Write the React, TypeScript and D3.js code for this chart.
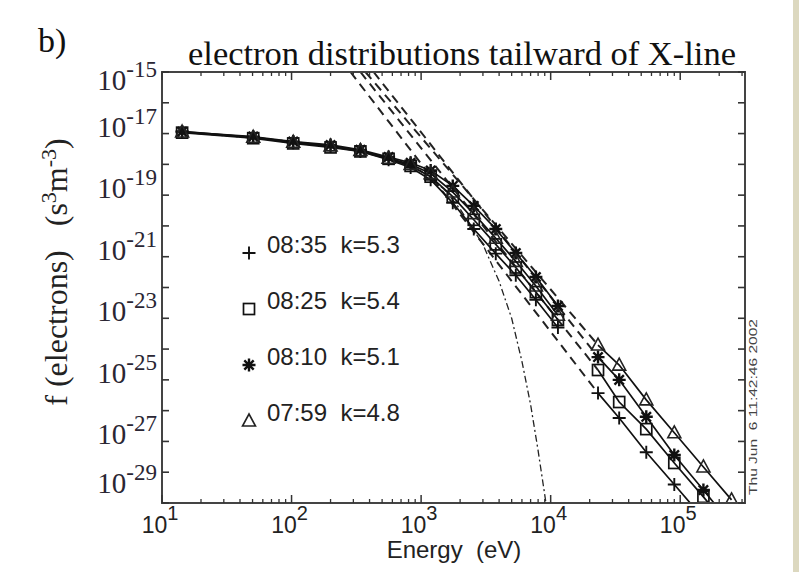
import React from 'react';
import * as d3 from 'd3';

// ---------- data (energies in eV, f values as log10 exponents) ----------
const energyLow = [14.3, 50.6, 103, 200, 340, 561, 830, 1185, 1755, 2550, 3770, 5380, 7690, 11380];
const energyHigh = [23200, 33800, 54700, 90000, 151000, 249000];

const plusLow = [-16.93, -17.12, -17.3, -17.42, -17.58, -17.85, -18.1, -18.5, -19.25, -20.1, -20.9, -21.6, -22.4, -23.3];
const squareLow = [-16.97, -17.15, -17.32, -17.45, -17.58, -17.82, -18.05, -18.4, -19.05, -19.8, -20.6, -21.35, -22.15, -23.05];
const starLow = [-16.94, -17.1, -17.26, -17.37, -17.53, -17.76, -17.95, -18.2, -18.7, -19.35, -20.1, -20.88, -21.66, -22.6];
const triLow = [-16.95, -17.12, -17.28, -17.4, -17.55, -17.8, -18.0, -18.3, -18.9, -19.6, -20.4, -21.15, -21.95, -22.9];

const plusHigh = [-25.43, -26.24, -27.35, -28.4, -29.5];
const squareHigh = [-24.68, -25.72, -26.6, -27.7, -28.8, -29.9];
const starHigh = [-24.26, -25.0, -26.2, -27.44, -28.58, -29.7];
const triHigh = [-23.87, -24.52, -25.65, -26.72, -27.83, -28.9];

// power-law fit lines: energies and log10 f at both ends
const fitEnergies = [
  [285, 23200],
  [340, 23200],
  [430, 23200],
  [372, 23200],
];
const fitValues = [
  [-15, -25.43],
  [-15, -24.68],
  [-15, -24.26],
  [-15, -23.87],
];

// Maxwellian (dash-dot)
const maxwellE = [14, 100, 300, 600, 1000, 1500, 2000, 3000, 4000, 5000, 6000, 7000, 8000, 9200];
const maxwellF = [-16.95, -17.25, -17.5, -17.82, -18.22, -18.8, -19.45, -20.6, -21.8, -23.0, -24.4, -25.8, -27.3, -29.0];

const seriesNames = ['plus', 'square', 'star', 'triangle'];
const legendLabels = ['08:35  k=5.3', '08:25  k=5.4', '08:10  k=5.1', '07:59  k=4.8'];
const xTickExps = [1, 2, 3, 4, 5];
const yTickExps = [-29, -28, -27, -26, -25, -24, -23, -22, -21, -20, -19, -18, -17, -16, -15];
const yLabelExps = [-15, -17, -19, -21, -23, -25, -27, -29];

const lowSeries = [plusLow, squareLow, starLow, triLow];
const highSeries = [plusHigh, squareHigh, starHigh, triHigh];

// ---------- layout ----------
const W = 799;
const H = 572;
const L = 162, R = 745, T = 72, B = 503;

const x = d3.scaleLog().domain([10, Math.pow(10, 5.5)]).range([L, R]);
const y = d3.scaleLog().domain([1e-29, 1e-15]).range([B, T]);

const p10 = (v: number) => Math.pow(10, v);

function Marker({ kind, cx, cy }: { kind: string; cx: number; cy: number }) {
  const s = 6.5;
  if (kind === 'plus') {
    return <path d={`M${cx - s},${cy}H${cx + s}M${cx},${cy - s}V${cy + s}`} stroke="#111" strokeWidth={1.9} fill="none" />;
  }
  if (kind === 'square') {
    return <rect x={cx - 5.5} y={cy - 5.5} width={11} height={11} stroke="#111" strokeWidth={1.7} fill="none" />;
  }
  if (kind === 'star') {
    const d = s * 0.72;
    return (
      <g stroke="#111" strokeWidth={2.4} fill="none">
        <path d={`M${cx - s},${cy}H${cx + s}M${cx},${cy - s}V${cy + s}M${cx - d},${cy - d}L${cx + d},${cy + d}M${cx - d},${cy + d}L${cx + d},${cy - d}`} />
        <circle cx={cx} cy={cy} r={2.5} fill="#111" stroke="none" />
      </g>
    );
  }
  return <path d={`M${cx},${cy - 7}L${cx + 6.5},${cy + 5}L${cx - 6.5},${cy + 5}Z`} stroke="#222" strokeWidth={1.6} fill="none" />;
}

export default function App() {
  const line = d3
    .line<[number, number]>()
    .x((d) => x(d[0]))
    .y((d) => y(p10(d[1])));

  const minorX: number[] = [];
  for (let e = 1; e <= 5; e++) {
    for (let k = 2; k <= 9; k++) {
      const v = k * Math.pow(10, e);
      if (v < Math.pow(10, 5.5)) minorX.push(v);
    }
  }

  const serif = "'Liberation Serif', 'DejaVu Serif', serif";
  const sans = "'Liberation Sans', Arial, sans-serif";

  return (
    <svg width={W} height={H} viewBox={`0 0 ${W} ${H}`} style={{ position: 'absolute', left: 0, top: 0, background: '#fff' }}>
      <rect x={0} y={0} width={W} height={H} fill="#fff" />
      <rect x={793} y={0} width={6} height={H} fill="#dcd8bf" />
      <defs>
        <clipPath id="plotclip">
          <rect x={L} y={T} width={R - L} height={B - T} />
        </clipPath>
      </defs>

      {/* panel label and title */}
      <text x={38} y={52} fontFamily={serif} fontSize={34} fill="#111">b)</text>
      <text x={462} y={65} textAnchor="middle" fontFamily={serif} fontSize={34.5} fill="#111">
        electron distributions tailward of X-line
      </text>

      <g clipPath="url(#plotclip)">
        {/* Maxwellian */}
        <path
          d={line(maxwellE.map((e, i) => [e, maxwellF[i]] as [number, number])) || ''}
          fill="none"
          stroke="#222"
          strokeWidth={1.3}
          strokeDasharray="7,3,2,3"
        />
        {/* power-law fits */}
        {fitEnergies.map((es, i) => (
          <path
            key={'fit' + i}
            d={line(es.map((e, j) => [e, fitValues[i][j]] as [number, number])) || ''}
            fill="none"
            stroke="#222"
            strokeWidth={2}
            strokeDasharray="9,6"
          />
        ))}
        {/* low-energy series */}
        {lowSeries.map((s, i) => (
          <path
            key={'low' + i}
            d={line(s.map((v, j) => [energyLow[j], v] as [number, number])) || ''}
            fill="none"
            stroke="#111"
            strokeWidth={1.7}
          />
        ))}
        {/* high-energy series */}
        {highSeries.map((s, i) => (
          <path
            key={'high' + i}
            d={line(s.map((v, j) => [energyHigh[j], v] as [number, number])) || ''}
            fill="none"
            stroke="#111"
            strokeWidth={1.7}
          />
        ))}
        {lowSeries.map((s, i) =>
          s.map((v, j) => <Marker key={`ml${i}-${j}`} kind={seriesNames[i]} cx={x(energyLow[j])} cy={y(p10(v))} />)
        )}
        {highSeries.map((s, i) =>
          s.map((v, j) => <Marker key={`mh${i}-${j}`} kind={seriesNames[i]} cx={x(energyHigh[j])} cy={y(p10(v))} />)
        )}
      </g>

      {/* frame */}
      <rect x={L} y={T} width={R - L} height={B - T} fill="none" stroke="#444" strokeWidth={2} />

      {/* x ticks */}
      {xTickExps.map((e) => {
        const px = x(Math.pow(10, e));
        return (
          <g key={'xt' + e}>
            <line x1={px} x2={px} y1={B} y2={B - 8} stroke="#333" strokeWidth={1.5} />
            <line x1={px} x2={px} y1={T} y2={T + 8} stroke="#333" strokeWidth={1.5} />
          </g>
        );
      })}
      {minorX.map((v, i) => {
        const px = x(v);
        return (
          <g key={'xm' + i}>
            <line x1={px} x2={px} y1={B} y2={B - 4} stroke="#333" strokeWidth={1.3} />
            <line x1={px} x2={px} y1={T} y2={T + 4} stroke="#333" strokeWidth={1.3} />
          </g>
        );
      })}
      {/* y ticks */}
      {yTickExps.map((e) => {
        const py = y(Math.pow(10, e));
        return (
          <g key={'yt' + e}>
            <line x1={L} x2={L + 7} y1={py} y2={py} stroke="#333" strokeWidth={1.6} />
            <line x1={R} x2={R - 7} y1={py} y2={py} stroke="#333" strokeWidth={1.6} />
          </g>
        );
      })}

      {/* x tick labels */}
      {xTickExps.map((e) => (
        <text key={'xl' + e} x={x(Math.pow(10, e)) - 2} y={533} textAnchor="middle" fontFamily={sans} fontSize={23} fill="#222">
          10<tspan dy={-13} fontSize={20}>{e}</tspan>
        </text>
      ))}
      {/* y tick labels */}
      {yLabelExps.map((e) => {
        const py = y(Math.pow(10, e));
        const base = Math.max(T + 18, Math.min(B - 10, py + 3));
        return (
          <text key={'yl' + e} x={157} y={base} textAnchor="end" fontFamily={serif} fontSize={29} fill="#2a2633">
            10<tspan dy={-13} fontSize={23}>{'-' + Math.abs(e)}</tspan>
          </text>
        );
      })}

      {/* axis titles */}
      <text x={454} y={558} textAnchor="middle" fontFamily={sans} fontSize={24} fill="#222" style={{ whiteSpace: 'pre' }}>
        Energy  (eV)
      </text>
      <text
        transform="translate(67,272) rotate(-90)"
        textAnchor="middle"
        fontFamily={serif}
        fontSize={32}
        fill="#222"
        style={{ whiteSpace: 'pre' }}
      >
        f (electrons)   (s<tspan dy={-11} fontSize={22}>3</tspan><tspan dy={11}>m</tspan><tspan dy={-11} fontSize={22}>-3</tspan><tspan dy={11}>)</tspan>
      </text>

      {/* legend */}
      {legendLabels.map((lab, i) => {
        const by = 253 + i * 56;
        return (
          <g key={'lg' + i}>
            <Marker kind={seriesNames[i]} cx={249} cy={by} />
            <text x={267} y={by} fontFamily={sans} fontSize={24} fill="#222" style={{ whiteSpace: 'pre' }}>
              {lab}
            </text>
          </g>
        );
      })}

      {/* date stamp */}
      <text transform="translate(757,495) rotate(-90)" fontFamily={sans} fontSize={11} fill="#444" textLength={176} lengthAdjust="spacingAndGlyphs" style={{ whiteSpace: 'pre' }}>
        Thu Jun  6 11:42:46 2002
      </text>
    </svg>
  );
}
